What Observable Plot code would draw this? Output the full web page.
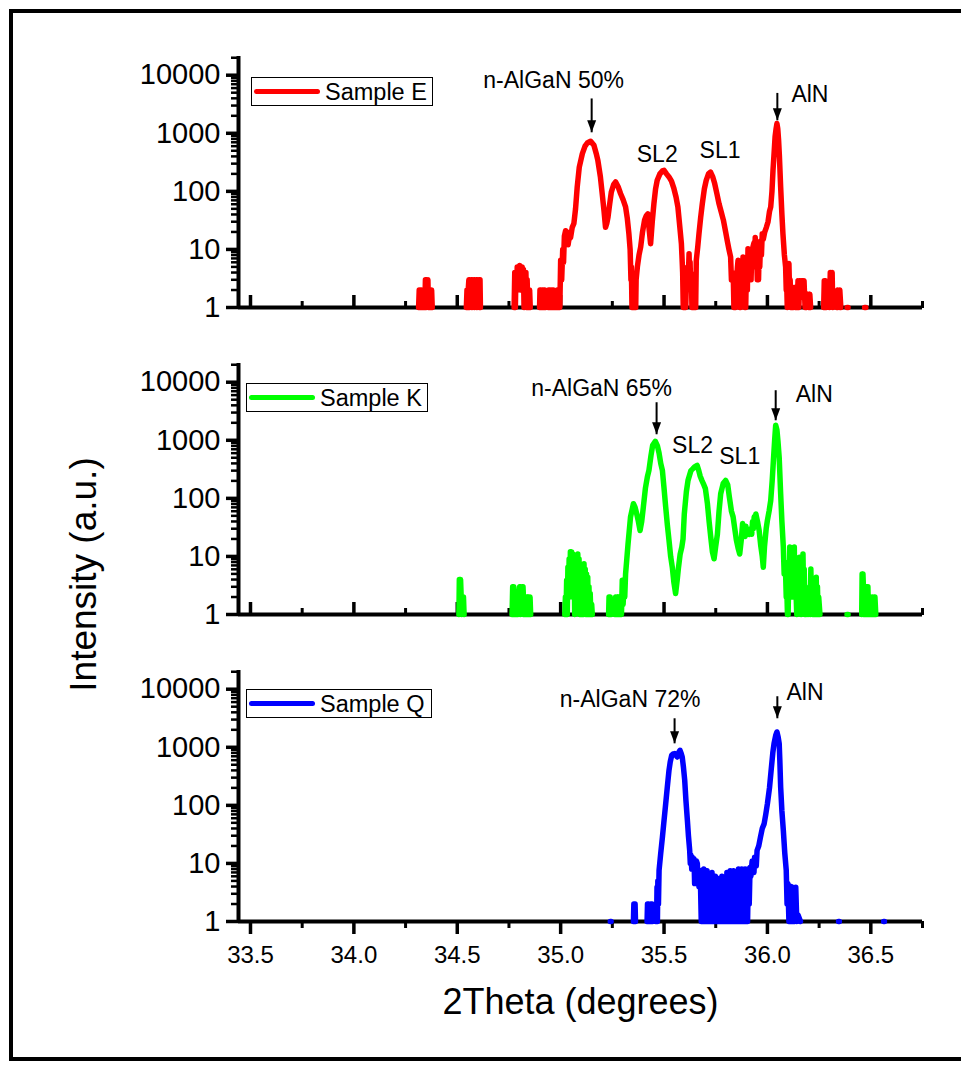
<!DOCTYPE html>
<html>
<head>
<meta charset="utf-8">
<script src="https://cdn.jsdelivr.net/npm/d3@7"></script>
<script src="https://cdn.jsdelivr.net/npm/@observablehq/plot@0.6"></script>
<style>
  html, body { margin: 0; padding: 0; background: white; overflow: hidden; }
  #fig { position: relative; width: 961px; height: 1070px; overflow: hidden; background: white; font-family: "Liberation Sans", Arial, sans-serif; }
  #fig .border { position: absolute; left: 9px; top: 9px; width: 1000px; height: 1044px; border: 4px solid black; box-sizing: content-box; }
  #fig .panel { position: absolute; left: 0; }
  #fig .legend { position: absolute; border: 1.5px solid black; box-sizing: border-box; background: white; height: 29px; }
  #fig .legend .swatch { position: absolute; height: 5px; border-radius: 3px; }
  #fig .legend .lab { position: absolute; font-size: 23.5px; line-height: 23px; white-space: nowrap; color: black; }
</style>
</head>
<body>
<div id="fig"><div class="border"></div></div>
<script>
// ---------- axes / ticks ----------
const xDomain = [33.442, 36.75];
const yDomain = [1, 21000];
const xMajorTicks = [33.5, 34.0, 34.5, 35.0, 35.5, 36.0, 36.5];
const xMinorTicks = [33.75, 34.25, 34.75, 35.25, 35.75, 36.25, 36.75];
const yMajorTicks = [1, 10, 100, 1000, 10000];
const yMinorTicks = [2, 3, 4, 5, 6, 7, 8, 9, 20, 30, 40, 50, 60, 70, 80, 90,
  200, 300, 400, 500, 600, 700, 800, 900, 2000, 3000, 4000, 5000, 6000, 7000, 8000, 9000, 20000];
const xTitle = "2Theta (degrees)";
const yTitle = "Intensity (a.u.)";
const sampleNames = ["Sample E", "Sample K", "Sample Q"];
const sampleColors = ["#ff0000", "#00ff00", "#0000ff"];

// ---------- series: [2theta, counts]; [x, null] = no counts (gap) ----------
const sampleE = [
  [34.313,1],[34.316,2],[34.319,1],[34.322,2],[34.325,1],[34.328,2],[34.331,1],[34.334,2],[34.337,1],[34.340,2],[34.343,1],[34.346,3],[34.349,1],[34.352,3],[34.355,2],[34.358,3],[34.361,1],[34.364,2],[34.367,1],[34.370,2],[34.373,1],[34.376,2],[34.379,1],[34.45,null],
  [34.544,1],[34.547,2],[34.550,1],[34.553,2],[34.556,3],[34.559,1],[34.562,3],[34.565,2],[34.568,3],[34.571,1],[34.574,3],[34.577,2],[34.580,3],[34.583,1],[34.586,3],[34.589,2],[34.592,3],[34.595,1],[34.598,3],[34.601,2],[34.604,3],[34.607,1],[34.610,3],[34.612,1],[34.70,null],
  [34.775,1],[34.778,4],[34.781,1],[34.784,4],[34.787,2],[34.790,5],[34.793,2],[34.796,5],[34.799,3],[34.802,5.3],[34.805,2],[34.808,5],[34.811,3],[34.814,5],[34.817,2],[34.820,4.5],[34.823,1],[34.826,4],[34.829,2],[34.832,4],[34.835,1],[34.838,3],[34.841,1],[34.844,2],[34.847,1],[34.850,2],[34.853,1],[34.87,null],
  [34.898,1],[34.900,2],[34.903,1],[34.906,2],[34.909,1],[34.912,null],[34.916,1],[34.918,2],[34.921,1],[34.924,2],[34.927,1],[34.933,null],[34.940,1],[34.942,2],[34.945,1],[34.948,2],[34.951,1],[34.954,2],[34.957,1],[34.960,2],[34.963,1],[34.966,2],[34.970,1],[34.975,null],[34.980,1],[34.984,2],[34.988,1],[34.992,1.7],[34.996,1],
  [35.000,6.5],[35.005,3],[35.010,10],[35.014,6],[35.018,17],[35.024,21],[35.028,14],[35.032,20],[35.036,12],[35.040,15],[35.048,16],[35.056,24],[35.064,28],[35.072,50],[35.080,118],[35.090,260],[35.105,447],[35.118,600],[35.129,680],[35.145,730],[35.161,620],[35.172,450],[35.180,340],[35.192,180],[35.201,91],[35.210,45],[35.217,24],[35.223,28],[35.229,36],[35.237,60],[35.245,97],[35.256,130],[35.266,145],[35.278,120],[35.290,91],[35.302,72],[35.314,54],[35.322,35],[35.330,18.7],[35.336,10],[35.340,3],[35.342,5],[35.345,1],[35.348,2],[35.351,1],[35.355,1],[35.358,3],[35.360,1.7],[35.363,1],[35.365,3],[35.371,5],[35.379,8],[35.387,11],[35.396,20],[35.406,32],[35.414,38],[35.422,41],[35.428,22],[35.435,12.5],[35.443,30],[35.451,61],[35.459,110],[35.467,155],[35.480,200],[35.492,225],[35.500,230],[35.512,200],[35.524,177],[35.536,150],[35.548,111],[35.558,80],[35.567,54],[35.576,25],[35.584,12.5],[35.588,6],[35.590,4],[35.593,1],[35.596,3],[35.599,1],[35.602,1.5],[35.605,1],[35.608,2.9],[35.611,2],[35.614,5],[35.617,3],[35.621,8.4],[35.624,3],[35.626,6],[35.629,2],[35.632,3.8],[35.635,1],[35.638,2],[35.641,1],[35.645,1],[35.648,2],[35.650,3],[35.653,1],[35.656,6.5],[35.663,11],[35.669,18.7],[35.677,35],[35.685,61],[35.695,110],[35.704,155],[35.715,200],[35.725,215],[35.735,180],[35.745,136],[35.756,90],[35.766,61],[35.776,45],[35.787,32],[35.798,20],[35.806,14],[35.814,10],[35.822,7.4],[35.826,3],[35.830,4],[35.835,3.3],[35.838,1],[35.840,2],[35.843,1],[35.846,1],[35.849,4],[35.851,3],[35.855,5],[35.858,6.5],[35.860,2],[35.862,3],[35.866,1],[35.868,4],[35.870,1],[35.875,4],[35.878,2],[35.882,7.4],[35.885,2],[35.888,3],[35.891,1],[35.895,1],[35.898,4],[35.900,5],[35.903,2],[35.906,10.3],[35.909,4],[35.912,8],[35.915,3],[35.918,6.5],[35.921,3],[35.924,9],[35.927,5],[35.930,11],[35.935,13],[35.938,7],[35.941,16],[35.945,6],[35.948,8],[35.951,3],[35.954,5],[35.957,3],[35.960,9],[35.963,5],[35.967,14],[35.971,8],[35.975,18.7],[35.980,15],[35.987,20],[35.995,24],[36.003,30],[36.010,45],[36.016,54],[36.022,100],[36.027,230],[36.033,500],[36.037,865],[36.042,1200],[36.046,1470],[36.050,1200],[36.054,758],[36.058,400],[36.064,118],[36.070,40],[36.075,18.7],[36.082,8],[36.088,5],[36.091,2],[36.094,2],[36.096,1],[36.100,3],[36.104,5.7],[36.107,2],[36.110,3],[36.113,1],[36.116,1],[36.120,2],[36.125,1],[36.128,2.2],[36.132,2.2],[36.135,1],[36.140,2.2],[36.143,1],[36.148,2.9],[36.152,1],[36.156,2.9],[36.160,2],[36.165,2.9],[36.170,2.9],[36.174,1.5],[36.177,2.9],[36.182,1],[36.190,1],[36.196,1.7],[36.200,1],[36.205,1.7],[36.209,1],[36.24,null],
  [36.272,1],[36.275,2.9],[36.278,1],[36.280,2.9],[36.284,1],[36.292,null],[36.300,1],[36.304,4],[36.307,2],[36.310,3],[36.313,4],[36.316,1],[36.325,null],[36.336,1],[36.340,2],[36.345,1.3],[36.350,2],[36.355,1],[36.37,null],
  [36.385,1],[36.390,1],[36.43,null],[36.470,1],[36.476,1]
];

const sampleK = [
  [34.508,1],[34.510,4],[34.513,2],[34.516,4],[34.519,2],[34.522,1],[34.525,2],[34.530,2],[34.533,1],[34.65,null],
  [34.765,1],[34.768,3],[34.771,1],[34.774,3],[34.777,2],[34.780,1],[34.783,2],[34.786,1],[34.790,2],[34.794,1],[34.797,2],[34.800,2],[34.802,3],[34.805,1],[34.808,3],[34.811,2],[34.814,3],[34.818,3],[34.820,2],[34.824,1],[34.828,2],[34.832,1],[34.836,2],[34.840,1],[34.845,2],[34.849,1],[34.852,2],[34.855,1],[34.95,null],
  [35.020,1],[35.023,2],[35.026,1],[35.029,3.9],[35.032,1],[35.035,6.5],[35.038,2],[35.041,9],[35.044,2],[35.047,12],[35.050,3],[35.053,11.9],[35.056,2],[35.059,11],[35.062,4],[35.065,9],[35.068,1],[35.071,8.5],[35.074,2],[35.077,10],[35.080,3],[35.083,11],[35.086,2],[35.089,9],[35.092,1],[35.095,5],[35.098,1],[35.101,3],[35.104,1],[35.107,5],[35.110,1],[35.113,7.5],[35.116,2],[35.119,6],[35.122,1],[35.125,5],[35.128,1],[35.131,4.4],[35.134,1],[35.137,3],[35.140,1],[35.143,2.3],[35.146,1],[35.150,1.5],[35.153,1],[35.19,null],
  [35.232,1],[35.234,2],[35.237,1],[35.240,2],[35.244,1],[35.252,null],[35.262,1],[35.266,2],[35.269,1],[35.272,2],[35.276,1],[35.279,1],[35.282,2],[35.285,1],[35.290,2],[35.294,1],[35.298,3.9],[35.302,1.5],[35.306,3],[35.310,2],[35.314,5],[35.320,9],[35.326,16.5],[35.338,48],[35.346,65],[35.352,81],[35.360,70],[35.368,54],[35.376,40],[35.384,28],[35.392,40],[35.400,71],[35.410,150],[35.420,240],[35.427,304],[35.437,550],[35.445,820],[35.458,960],[35.468,800],[35.476,600],[35.484,400],[35.492,304],[35.500,150],[35.508,71],[35.516,35],[35.524,19],[35.532,10],[35.540,6.5],[35.548,3.5],[35.556,2.3],[35.564,4],[35.570,6.5],[35.578,11],[35.586,14.5],[35.592,20],[35.598,54],[35.608,130],[35.616,204],[35.630,300],[35.640,325],[35.648,350],[35.660,371],[35.668,300],[35.675,240],[35.683,204],[35.690,180],[35.700,147],[35.710,80],[35.718,40],[35.726,21.5],[35.734,12],[35.742,9.1],[35.750,15],[35.758,24],[35.766,60],[35.774,120],[35.786,180],[35.798,204],[35.808,170],[35.816,105],[35.826,60],[35.834,48],[35.842,30],[35.850,19],[35.858,14],[35.866,11],[35.874,20],[35.880,37],[35.884,25],[35.888,30],[35.892,22],[35.896,33],[35.900,24],[35.904,28],[35.912,24],[35.920,30],[35.924,24],[35.928,40],[35.932,30],[35.936,48],[35.940,35],[35.944,54],[35.952,40],[35.960,28],[35.968,15],[35.975,10],[35.980,6.5],[35.986,15],[35.994,30],[36.000,42],[36.008,60],[36.016,92],[36.023,200],[36.029,452],[36.035,1000],[36.040,1815],[36.046,1500],[36.051,960],[36.057,500],[36.064,120],[36.070,40],[36.077,14.5],[36.081,5],[36.084,8],[36.088,5],[36.091,2],[36.094,2.5],[36.097,1],[36.100,1],[36.104,6],[36.106,2],[36.108,14.5],[36.111,3],[36.114,8],[36.117,2],[36.120,5],[36.123,2],[36.125,10],[36.128,3],[36.130,14.5],[36.133,2],[36.136,6],[36.139,2],[36.142,1],[36.145,3],[36.148,4],[36.151,2],[36.155,9.7],[36.158,2],[36.160,6],[36.163,1],[36.166,4.4],[36.169,2],[36.172,11],[36.175,2],[36.178,6],[36.181,1],[36.184,2.3],[36.187,1],[36.190,1.5],[36.196,1],[36.200,2],[36.204,3],[36.207,1],[36.210,6.1],[36.213,2],[36.216,3],[36.219,1],[36.222,1],[36.226,2],[36.230,2],[36.233,1],[36.236,4.4],[36.239,1],[36.242,3],[36.245,1],[36.248,2],[36.254,1],[36.32,null],
  [36.385,1],[36.390,1],[36.42,null],
  [36.456,1],[36.458,5],[36.460,2],[36.462,5],[36.466,2],[36.470,1],[36.474,2],[36.477,1],[36.480,3],[36.483,1],[36.486,3],[36.489,1],[36.492,2],[36.496,1],[36.500,2],[36.504,1],[36.508,2],[36.512,1],[36.516,2],[36.520,2],[36.524,1]
];

const sampleQ = [
  [35.240,1],[35.244,1],[35.30,null],
  [35.352,1],[35.354,2],[35.357,1],[35.360,2],[35.362,1],[35.39,null],
  [35.418,1],[35.420,2],[35.423,1],[35.426,2],[35.428,1],[35.431,null],[35.434,1],[35.436,2],[35.439,1],[35.442,2],[35.444,1],[35.45,null],
  [35.460,1],[35.462,2],[35.464,1],[35.466,3.9],[35.468,1],[35.470,5],[35.473,2],[35.476,7.6],[35.484,15],[35.492,28],[35.500,55],[35.508,107],[35.516,210],[35.524,401],[35.530,560],[35.537,728],[35.544,770],[35.551,778],[35.558,720],[35.564,680],[35.570,800],[35.577,888],[35.583,780],[35.588,680],[35.594,450],[35.600,270],[35.606,120],[35.613,55],[35.618,30],[35.624,16.8],[35.627,10],[35.630,14],[35.634,8],[35.637,12.8],[35.642,8],[35.645,12],[35.648,4.5],[35.651,9],[35.654,7],[35.657,11],[35.661,9.9],[35.664,5],[35.666,7],[35.669,4],[35.672,7.6],[35.676,5],
  [35.680,1],[35.684,7],[35.688,1],[35.692,8],[35.696,1],[35.700,6],[35.704,1],[35.708,7.5],[35.712,1],[35.716,6],[35.720,1],[35.724,5.5],[35.728,1],[35.732,7],[35.736,1],[35.740,5],[35.744,1],[35.748,6],[35.752,1],[35.756,5],[35.760,1],[35.764,5.5],[35.768,1],[35.772,5],[35.776,1],[35.780,6],[35.784,1],[35.788,5],[35.792,1],[35.796,5.5],[35.800,1],[35.804,7],[35.808,1],[35.812,5],[35.816,1],[35.820,7.5],[35.824,1],[35.828,6],[35.832,1],[35.836,7.5],[35.840,1],[35.844,6],[35.848,1],[35.852,6.5],[35.856,1],[35.860,8],[35.864,1],[35.868,6],[35.872,1],[35.876,8],[35.880,1],[35.884,7],[35.888,1],[35.892,8],[35.896,1],[35.900,7],[35.904,1],[35.908,8],[35.912,2],[35.916,8.5],[35.920,6],
  [35.926,11],[35.929,7],[35.932,10],[35.935,7],[35.938,12.8],[35.943,12.8],[35.946,9],[35.950,16.8],[35.958,20],[35.966,28],[35.975,40],[35.984,48],[35.992,70],[36.000,107],[36.010,200],[36.018,401],[36.026,800],[36.032,1157],[36.040,1600],[36.046,1836],[36.052,1500],[36.057,1157],[36.060,600],[36.064,207],[36.070,80],[36.077,37],[36.084,15],[36.091,7.6],[36.095,2],[36.099,4.5],[36.104,1],[36.108,3.9],[36.111,1],[36.114,4],[36.118,1],[36.122,3.9],[36.125,1],[36.128,2],[36.132,1],[36.137,3.9],[36.142,1],[36.148,1.3],[36.160,1],[36.25,null],
  [36.344,1],[36.348,1],[36.45,null],[36.562,1],[36.566,1]
];

// ---------- annotations: [text, 2theta, counts at text baseline, anchor] ----------
const labelsE = [["n-AlGaN 50%", 34.966, 5970, "middle"], ["SL2", 35.467, 316, "middle"], ["SL1", 35.771, 372, "middle"], ["AlN", 36.116, 3470, "start"]];
const labelsK = [["n-AlGaN 65%", 35.198, 5740, "middle"], ["SL2", 35.638, 597, "middle"], ["SL1", 35.866, 385, "middle"], ["AlN", 36.137, 4520, "start"]];
const labelsQ = [["n-AlGaN 72%", 35.336, 4900, "middle"], ["AlN", 36.092, 6460, "start"]];
// arrows: [2theta, counts at tail, counts at tip]
const arrowsE = [[35.150, 3980, 1040], [36.048, 4955, 1675]];
const arrowsK = [[35.464, 4520, 1270], [36.040, 7280, 2210]];
const arrowsQ = [[35.551, 3160, 1170], [36.048, 7570, 3160]];

// ---------- drawing ----------
const arrowHead = {
  draw(ctx) { ctx.moveTo(0, 0); ctx.lineTo(-4.5, -12); ctx.lineTo(4.5, -12); ctx.closePath(); }
};

function labelMark(labels, anchor) {
  return Plot.text(labels.filter(d => d[3] === anchor), {
    x: d => d[1], y: d => d[2], text: d => d[0],
    textAnchor: anchor, lineAnchor: "bottom", fontSize: 23, fill: "black"
  });
}

function panel(series, color, labels, arrows, isBottom, extra) {
  const marks = [
    Plot.axisY(yMinorTicks, {anchor: "left", tickSize: 7, strokeWidth: 2.5, tickFormat: () => "", label: null}),
    Plot.axisY(yMajorTicks, {anchor: "left", tickSize: 12, strokeWidth: 3.5, tickPadding: 6, fontSize: 29, tickFormat: d => String(d), label: null}),
    isBottom
      ? Plot.axisX(xMinorTicks, {anchor: "bottom", tickSize: 7, strokeWidth: 3, tickFormat: () => "", label: null})
      : Plot.axisX(xMinorTicks, {anchor: "top", frameAnchor: "bottom", tickSize: 7, strokeWidth: 3, tickFormat: () => "", label: null}),
    isBottom
      ? Plot.axisX(xMajorTicks, {anchor: "bottom", tickSize: 13, strokeWidth: 3.5, tickPadding: 11, fontSize: 24, tickFormat: d => d.toFixed(1), label: null})
      : Plot.axisX(xMajorTicks, {anchor: "top", frameAnchor: "bottom", tickSize: 13, strokeWidth: 3.5, tickFormat: () => "", label: null}),
    Plot.ruleX([xDomain[0]], {strokeWidth: 4}),
    Plot.ruleY([yDomain[0]], {strokeWidth: 4}),
    Plot.line(series, {x: d => d[0], y: d => d[1], stroke: color, strokeWidth: 5.5, strokeLinejoin: "round", strokeLinecap: "round"}),
    Plot.link(arrows, {x1: d => d[0], x2: d => d[0], y1: d => d[1], y2: d => d[2], stroke: "black", strokeWidth: 2}),
    Plot.dot(arrows, {x: d => d[0], y: d => d[2], symbol: arrowHead, fill: "black", stroke: "none"}),
    labelMark(labels, "middle"),
    labelMark(labels, "start"),
    ...(extra || [])
  ];
  return Plot.plot({
    width: 961,
    height: isBottom ? 456 : 340,
    marginLeft: 238, marginRight: 39, marginTop: 56, marginBottom: isBottom ? 149 : 33,
    x: {domain: xDomain},
    y: {type: "log", domain: yDomain},
    style: {background: "transparent", overflow: "visible", fontFamily: "'Liberation Sans', Arial, sans-serif", color: "black"},
    marks
  });
}

const fig = document.getElementById("fig");
const panels = [
  panel(sampleE, sampleColors[0], labelsE, arrowsE, false),
  panel(sampleK, sampleColors[1], labelsK, arrowsK, false, [
    Plot.text([yTitle], {text: d => d, frameAnchor: "left", rotate: -90, dx: -143, dy: 85.5, lineAnchor: "bottom", textAnchor: "middle", fontSize: 37, fill: "black"})
  ]),
  panel(sampleQ, sampleColors[2], labelsQ, arrowsQ, true, [
    Plot.text([xTitle], {text: d => d, frameAnchor: "bottom", dy: 92, lineAnchor: "bottom", textAnchor: "middle", fontSize: 36, fill: "black"})
  ])
];
const tops = [0, 307, 614];
panels.forEach((svg, i) => {
  const wrap = document.createElement("div");
  wrap.className = "panel";
  wrap.style.top = tops[i] + "px";
  wrap.appendChild(svg);
  fig.appendChild(wrap);
});

// legends (HTML boxes)
const legendGeom = [
  {left: 251, top: 77, width: 182},
  {left: 246, top: 383, width: 182},
  {left: 246, top: 689, width: 186}
];
legendGeom.forEach((g, i) => {
  const box = document.createElement("div");
  box.className = "legend";
  box.style.left = g.left + "px";
  box.style.top = g.top + "px";
  box.style.width = g.width + "px";
  const sw = document.createElement("div");
  sw.className = "swatch";
  sw.style.left = "2px"; sw.style.top = "11px"; sw.style.width = "66px";
  sw.style.background = sampleColors[i];
  const lab = document.createElement("div");
  lab.className = "lab";
  lab.style.left = "73px"; lab.style.top = "3px";
  lab.textContent = sampleNames[i];
  box.appendChild(sw); box.appendChild(lab);
  fig.appendChild(box);
});
</script>
</body>
</html>
